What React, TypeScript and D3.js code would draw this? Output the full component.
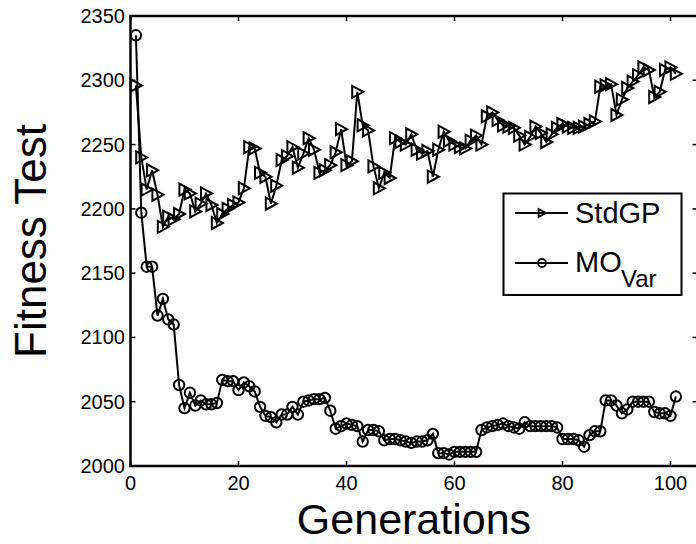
import React from "react";
import * as d3 from "d3";

const generations: number[] = d3.range(1, 102);

const stdGP: number[] = [
  2296, 2240, 2215, 2230, 2211, 2186, 2194, 2192, 2196, 2215,
  2212, 2198, 2204, 2212, 2203, 2189, 2196, 2200, 2203, 2205,
  2216, 2248, 2247, 2228, 2225, 2204, 2218, 2238, 2241, 2248,
  2232, 2243, 2255, 2246, 2228, 2230, 2234, 2244, 2262, 2234,
  2237, 2291, 2265, 2261, 2233, 2216, 2228, 2224, 2255, 2252,
  2250, 2258, 2246, 2243, 2245, 2225, 2246, 2260, 2253, 2250,
  2248, 2247, 2253, 2257, 2250, 2272, 2275, 2269, 2265, 2264,
  2263, 2257, 2250, 2256, 2264, 2259, 2252, 2258, 2263, 2266,
  2264, 2263, 2263, 2264, 2266, 2268, 2295, 2296, 2297, 2273,
  2285, 2294, 2299, 2304, 2310, 2308, 2287, 2291, 2308, 2310,
  2305,
];

const moVar: number[] = [
  2335, 2197, 2155, 2155, 2117, 2130, 2114, 2110, 2063, 2045,
  2057, 2047, 2051, 2048, 2048, 2049, 2067, 2066, 2066, 2059,
  2065, 2062, 2058, 2046, 2039, 2038, 2034, 2040, 2040, 2046,
  2040, 2050, 2051, 2052, 2052, 2053, 2043, 2029, 2031, 2033,
  2032, 2031, 2019, 2028, 2028, 2027, 2020, 2021, 2021, 2020,
  2019, 2018, 2019, 2019, 2020, 2025, 2010, 2010, 2009, 2011,
  2011, 2011, 2011, 2011, 2028, 2030, 2031, 2032, 2033, 2031,
  2030, 2029, 2034, 2031, 2031, 2031, 2031, 2031, 2030, 2021,
  2021, 2021, 2020, 2015, 2024, 2027, 2027, 2051, 2051, 2047,
  2041, 2044, 2050, 2050, 2050, 2050, 2042, 2041, 2041, 2039,
  2054,
];

const xTicks: number[] = [0, 20, 40, 60, 80, 100];
const yTicks: number[] = [2000, 2050, 2100, 2150, 2200, 2250, 2300, 2350];

const W = 696;
const H = 544;
const L = 130.5;
const R = 697.5;
const T = 16;
const B = 466;
const FONT = "'Liberation Sans', Arial, Helvetica, sans-serif";

const tri = (s: number) => `M${-s * 0.85},${-s} L${-s * 0.85},${s} L${s},0 Z`;

export default function App() {
  const x = d3.scaleLinear().domain([0, 105]).range([L, R]);
  const y = d3.scaleLinear().domain([2000, 2350]).range([B, T]);
  const line = d3
    .line<number>()
    .x((_, i) => x(generations[i]))
    .y((d) => y(d));

  const tickLen = 5;

  return (
    <div style={{ position: "fixed", left: 0, top: 0 }}>
      <svg width={W} height={H} style={{ display: "block", background: "#fff" }} fontFamily={FONT}>
        <rect x={0} y={0} width={W} height={H} fill="#fff" />
        {/* series */}
        <path d={line(stdGP) || ""} fill="none" stroke="#000" strokeWidth={2} />
        {stdGP.map((v, i) => (
          <path
            key={"s" + i}
            d={tri(6)}
            transform={`translate(${x(generations[i])},${y(v)})`}
            fill="none"
            stroke="#000"
            strokeWidth={2}
          />
        ))}
        <path d={line(moVar) || ""} fill="none" stroke="#000" strokeWidth={2} />
        {moVar.map((v, i) => (
          <circle
            key={"m" + i}
            cx={x(generations[i])}
            cy={y(v)}
            r={5.2}
            fill="none"
            stroke="#000"
            strokeWidth={2}
          />
        ))}

        {/* axes box */}
        <rect x={L} y={T} width={R - L} height={B - T} fill="none" stroke="#000" strokeWidth={2.5} />
        {xTicks.map((t) => (
          <g key={"xt" + t}>
            <line x1={x(t)} x2={x(t)} y1={B} y2={B - tickLen} stroke="#000" strokeWidth={1.5} />
            <line x1={x(t)} x2={x(t)} y1={T} y2={T + tickLen} stroke="#000" strokeWidth={1.5} />
            <text x={x(t)} y={490} textAnchor="middle" fontSize={20} fill="#000">
              {t}
            </text>
          </g>
        ))}
        {yTicks.map((t) => (
          <g key={"yt" + t}>
            <line x1={L} x2={L + tickLen} y1={y(t)} y2={y(t)} stroke="#000" strokeWidth={1.5} />
            <line x1={R} x2={R - tickLen} y1={y(t)} y2={y(t)} stroke="#000" strokeWidth={1.5} />
            <text x={125} y={y(t) + 7} textAnchor="end" fontSize={20} fill="#000">
              {t}
            </text>
          </g>
        ))}

        {/* axis labels */}
        <text x={(L + R) / 2} y={534} textAnchor="middle" fontSize={43} fill="#000">
          Generations
        </text>
        <text
          transform={`translate(46,${(T + B) / 2}) rotate(-90)`}
          textAnchor="middle"
          fontSize={44}
          fill="#000"
        >
          Fitness Test
        </text>

        {/* legend */}
        <rect x={503.5} y={193.5} width={178} height={101.5} fill="#fff" stroke="#000" strokeWidth={2} />
        <line x1={515} x2={568} y1={213} y2={213} stroke="#000" strokeWidth={2} />
        <path d={tri(4)} transform="translate(542,213)" fill="none" stroke="#000" strokeWidth={1.8} />
        <text x={575} y={223} fontSize={29} fill="#000">
          StdGP
        </text>
        <line x1={515} x2={568} y1={263} y2={263} stroke="#000" strokeWidth={2} />
        <circle cx={542} cy={263} r={4} fill="none" stroke="#000" strokeWidth={1.8} />
        <text x={575} y={272} fontSize={29} fill="#000">
          MO
        </text>
        <text x={621} y={287} fontSize={24} fill="#000">
          Var
        </text>
      </svg>
    </div>
  );
}
